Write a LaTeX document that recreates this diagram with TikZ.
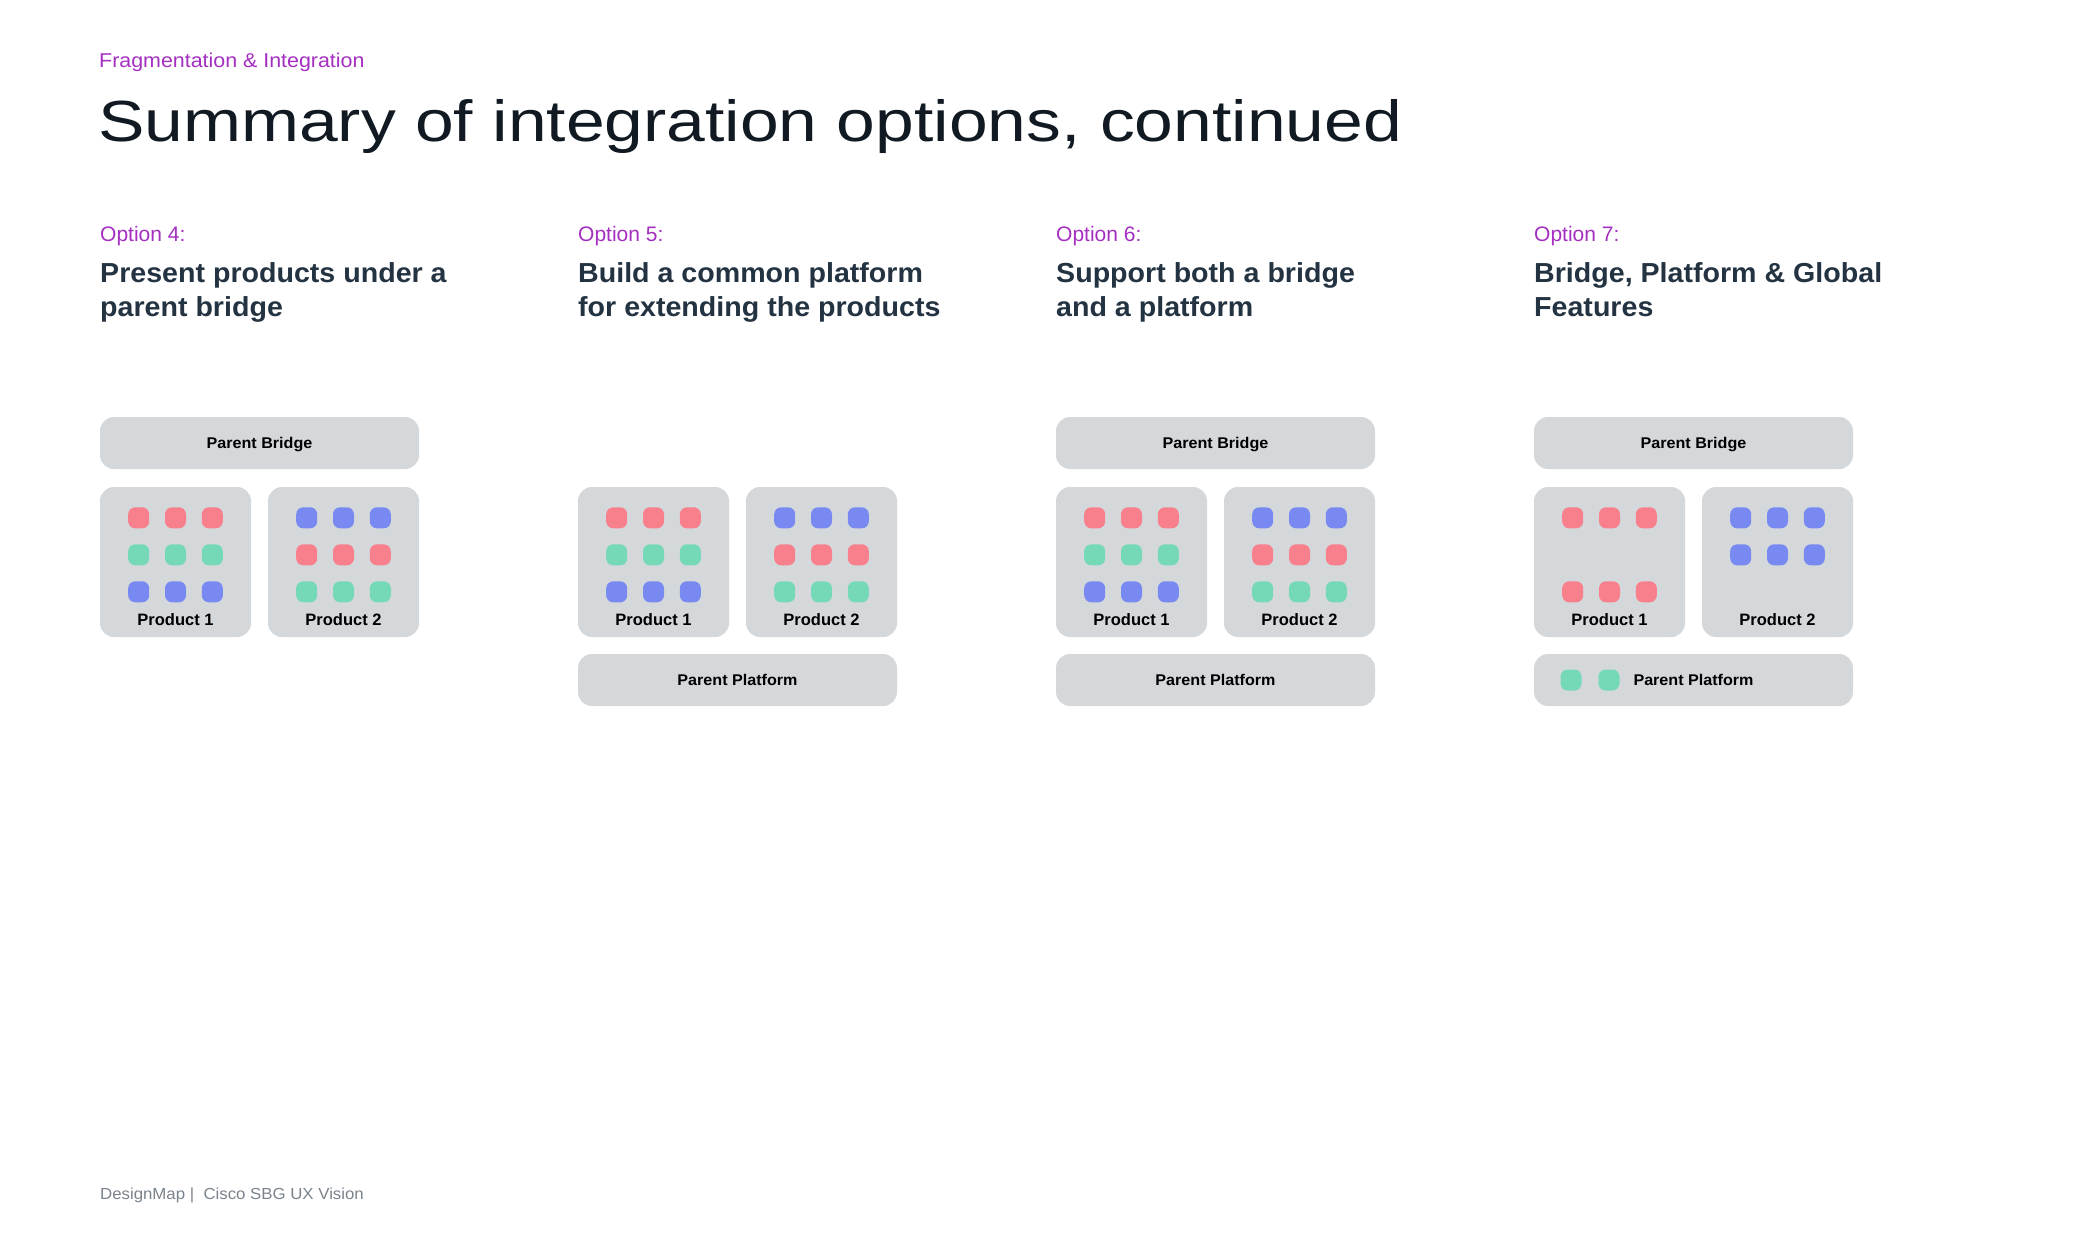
\documentclass[tikz,border=0pt]{standalone}
\usepackage{fontspec}
\setmainfont{Liberation Sans}
\definecolor{boxgray}{HTML}{D5D8DB}
\definecolor{dotred}{HTML}{F7808C}
\definecolor{dotgreen}{HTML}{75D9B7}
\definecolor{dotblue}{HTML}{7889F1}
\definecolor{kicker}{HTML}{A42FC1}
\definecolor{headink}{HTML}{243342}
\definecolor{titleink}{HTML}{111A22}
\definecolor{footink}{HTML}{7A838C}

\begin{document}
\begin{tikzpicture}[
      x=1pt, y=-1pt,
      bar/.style={rectangle, fill=boxgray, rounded corners=14pt, minimum width=319pt, minimum height=52pt, inner sep=0pt, text height=11.3pt, text depth=0pt, font=\fontsize{15.5}{18}\selectfont\bfseries\addfontfeatures{FakeStretch=1.04}},
      prod/.style={rectangle, fill=boxgray, rounded corners=14pt, minimum width=151pt, minimum height=150pt, inner sep=0pt},
      dot/.style={rectangle, rounded corners=7pt, minimum size=21pt, inner sep=0pt},
      plabel/.style={anchor=base, inner sep=0pt, font=\fontsize{16.5}{20}\selectfont\bfseries},
      optlabel/.style={anchor=base west, inner sep=0pt, text=kicker, font=\fontsize{21}{26}\selectfont},
      heading/.style={anchor=base west, inner sep=0pt, align=left, text=headink, font=\fontsize{27.5}{34.5}\selectfont\bfseries\addfontfeatures{FakeStretch=1.04}}
    ]

    \fill[white] (0,0) rectangle (2080,1240);
    \useasboundingbox (0,0) rectangle (2080,1240);

    % page header
    \node[anchor=base west, inner sep=0pt, text=kicker, font=\fontsize{20}{24}\selectfont\addfontfeatures{FakeStretch=1.07}] (kick) at (99,67) {Fragmentation \& Integration};
    \node[anchor=base west, inner sep=0pt, text=titleink, font=\fontsize{58}{70}\selectfont\addfontfeatures{FakeStretch=1.2}] (title) at (98,141) {Summary of integration options, continued};

    % column headings (base = last line)
    \node[optlabel] (opt4) at (100,241) {Option 4:};
    \node[optlabel] (opt5) at (578,241) {Option 5:};
    \node[optlabel] (opt6) at (1056,241) {Option 6:};
    \node[optlabel] (opt7) at (1534,241) {Option 7:};

    \node[heading] (head4) at (100,316.5) {Present products under a\\parent bridge};
    \node[heading] (head5) at (578,316.5) {Build a common platform\\for extending the products};
    \node[heading] (head6) at (1056,316.5) {Support both a bridge\\and a platform};
    \node[heading] (head7) at (1534,316.5) {Bridge, Platform \& Global\\Features};

    % option 4
    \node[bar]  (bridge4) at (259.5,443) {Parent Bridge};
    \node[prod] (prodA4)  at (175.5,562) {};
    \node[prod] (prodB4)  at (343.5,562) {};

    % option 5
    \node[prod] (prodA5)    at (653.5,562) {};
    \node[prod] (prodB5)    at (821.5,562) {};
    \node[bar]  (platform5) at (737.5,680) {Parent Platform};

    % option 6
    \node[bar]  (bridge6)   at (1215.5,443) {Parent Bridge};
    \node[prod] (prodA6)    at (1131.5,562) {};
    \node[prod] (prodB6)    at (1299.5,562) {};
    \node[bar]  (platform6) at (1215.5,680) {Parent Platform};

    % option 7
    \node[bar]  (bridge7)   at (1693.5,443) {Parent Bridge};
    \node[prod] (prodA7)    at (1609.5,562) {};
    \node[prod] (prodB7)    at (1777.5,562) {};
    \node[bar]  (platform7) at (1693.5,680) {};

    % feature dots, full grids
    \foreach \p in {4,5,6} {
      \foreach \c [count=\r] in {dotred,dotgreen,dotblue}
        \foreach \i [count=\k] in {-1,0,1}
          \node[dot, fill=\c] (dotA\p-\r-\k) at ([shift={(\i*36.8,-81.2+37*\r)}]prodA\p.center) {};
      \foreach \c [count=\r] in {dotblue,dotred,dotgreen}
        \foreach \i [count=\k] in {-1,0,1}
          \node[dot, fill=\c] (dotB\p-\r-\k) at ([shift={(\i*36.8,-81.2+37*\r)}]prodB\p.center) {};
    }

    % feature dots, option 7
    \foreach \r/\c in {1/dotred,3/dotred}
      \foreach \i [count=\k] in {-1,0,1}
        \node[dot, fill=\c] (dotA7-\r-\k) at ([shift={(\i*36.8,-81.2+37*\r)}]prodA7.center) {};
    \foreach \r/\c in {1/dotblue,2/dotblue}
      \foreach \i [count=\k] in {-1,0,1}
        \node[dot, fill=\c] (dotB7-\r-\k) at ([shift={(\i*36.8,-81.2+37*\r)}]prodB7.center) {};
    \node[dot, fill=dotgreen] (dotP7-1) at ([shift={(-122.5,0)}]platform7.center) {};
    \node[dot, fill=dotgreen] (dotP7-2) at ([shift={(-84.5,0)}]platform7.center) {};
    \node[bar, fill=none] (platlabel7) at (platform7.center) {Parent Platform};

    % product captions
    \foreach \p in {4,5,6,7} {
      \node[plabel] (capA\p) at ([yshift=-63]prodA\p.center) {Product 1};
      \node[plabel] (capB\p) at ([yshift=-63]prodB\p.center) {Product 2};
    }

    % footer
    \node[anchor=base west, inner sep=0pt, text=footink, font=\fontsize{16}{20}\selectfont\addfontfeatures{FakeStretch=1.05}] (foot) at (100,1199) {DesignMap |\ \ Cisco SBG UX Vision};

  \end{tikzpicture}
\end{document}
